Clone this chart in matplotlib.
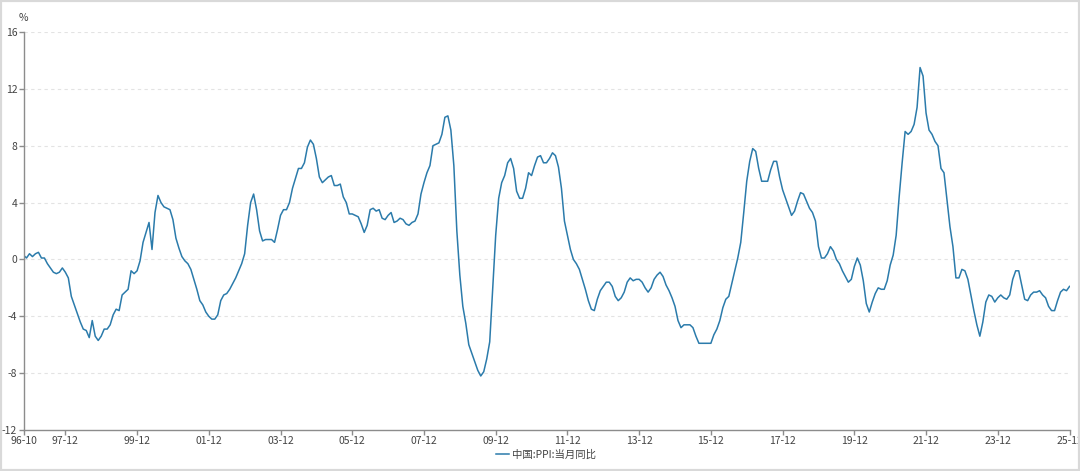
import matplotlib
matplotlib.use("Agg")
import matplotlib.pyplot as plt
from matplotlib.patches import Rectangle

plt.rcParams['font.family'] = ['Noto Sans CJK SC', 'DejaVu Sans']

# 中国 PPI 当月同比, 1996-10 .. 2025-12 (%)
ppi_1996 = [0.3, 0.1, 0.4]
ppi_1997 = [0.2, 0.4, 0.5, 0.1, 0.1, -0.3, -0.6, -0.9, -1.0, -0.9, -0.6, -0.9]
ppi_1998 = [-1.3, -2.6, -3.2, -3.8, -4.4, -4.9, -5.0, -5.5, -4.3, -5.4, -5.7, -5.4]
ppi_1999 = [-4.9, -4.9, -4.6, -3.9, -3.5, -3.6, -2.5, -2.3, -2.1, -0.8, -1.0, -0.8]
ppi_2000 = [-0.1, 1.2, 1.9, 2.6, 0.7, 3.3, 4.5, 4.0, 3.7, 3.6, 3.5, 2.8]
ppi_2001 = [1.5, 0.8, 0.2, -0.1, -0.3, -0.7, -1.4, -2.1, -2.9, -3.2, -3.7, -4.0]
ppi_2002 = [-4.2, -4.2, -3.9, -2.9, -2.5, -2.4, -2.1, -1.7, -1.3, -0.8, -0.3, 0.4]
ppi_2003 = [2.4, 4.0, 4.6, 3.5, 2.0, 1.3, 1.4, 1.4, 1.4, 1.2, 2.1, 3.1]
ppi_2004 = [3.5, 3.5, 4.0, 5.0, 5.7, 6.4, 6.4, 6.8, 7.9, 8.4, 8.1, 7.1]
ppi_2005 = [5.8, 5.4, 5.6, 5.8, 5.9, 5.2, 5.2, 5.3, 4.4, 4.0, 3.2, 3.2]
ppi_2006 = [3.1, 3.0, 2.5, 1.9, 2.4, 3.5, 3.6, 3.4, 3.5, 2.9, 2.8, 3.1]
ppi_2007 = [3.3, 2.6, 2.7, 2.9, 2.8, 2.5, 2.4, 2.6, 2.7, 3.2, 4.6, 5.4]
ppi_2008 = [6.1, 6.6, 8.0, 8.1, 8.2, 8.8, 10.0, 10.1, 9.1, 6.6, 2.0, -1.1]
ppi_2009 = [-3.3, -4.5, -6.0, -6.6, -7.2, -7.8, -8.2, -7.9, -7.0, -5.8, -2.1, 1.7]
ppi_2010 = [4.3, 5.4, 5.9, 6.8, 7.1, 6.4, 4.8, 4.3, 4.3, 5.0, 6.1, 5.9]
ppi_2011 = [6.6, 7.2, 7.3, 6.8, 6.8, 7.1, 7.5, 7.3, 6.5, 5.0, 2.7, 1.7]
ppi_2012 = [0.7, 0.0, -0.3, -0.7, -1.4, -2.1, -2.9, -3.5, -3.6, -2.8, -2.2, -1.9]
ppi_2013 = [-1.6, -1.6, -1.9, -2.6, -2.9, -2.7, -2.3, -1.6, -1.3, -1.5, -1.4, -1.4]
ppi_2014 = [-1.6, -2.0, -2.3, -2.0, -1.4, -1.1, -0.9, -1.2, -1.8, -2.2, -2.7, -3.3]
ppi_2015 = [-4.3, -4.8, -4.6, -4.6, -4.6, -4.8, -5.4, -5.9, -5.9, -5.9, -5.9, -5.9]
ppi_2016 = [-5.3, -4.9, -4.3, -3.4, -2.8, -2.6, -1.7, -0.8, 0.1, 1.2, 3.3, 5.5]
ppi_2017 = [6.9, 7.8, 7.6, 6.4, 5.5, 5.5, 5.5, 6.3, 6.9, 6.9, 5.8, 4.9]
ppi_2018 = [4.3, 3.7, 3.1, 3.4, 4.1, 4.7, 4.6, 4.1, 3.6, 3.3, 2.7, 0.9]
ppi_2019 = [0.1, 0.1, 0.4, 0.9, 0.6, 0.0, -0.3, -0.8, -1.2, -1.6, -1.4, -0.5]
ppi_2020 = [0.1, -0.4, -1.5, -3.1, -3.7, -3.0, -2.4, -2.0, -2.1, -2.1, -1.5, -0.4]
ppi_2021 = [0.3, 1.7, 4.4, 6.8, 9.0, 8.8, 9.0, 9.5, 10.7, 13.5, 12.9, 10.3]
ppi_2022 = [9.1, 8.8, 8.3, 8.0, 6.4, 6.1, 4.2, 2.3, 0.9, -1.3, -1.3, -0.7]
ppi_2023 = [-0.8, -1.4, -2.5, -3.6, -4.6, -5.4, -4.4, -3.0, -2.5, -2.6, -3.0, -2.7]
ppi_2024 = [-2.5, -2.7, -2.8, -2.5, -1.4, -0.8, -0.8, -1.8, -2.8, -2.9, -2.5, -2.3]
ppi_2025 = [-2.3, -2.2, -2.5, -2.7, -3.3, -3.6, -3.6, -2.9, -2.3, -2.1, -2.2, -1.9]

ppi = (ppi_1996 + ppi_1997 + ppi_1998 + ppi_1999 + ppi_2000 + ppi_2001
       + ppi_2002 + ppi_2003 + ppi_2004 + ppi_2005 + ppi_2006 + ppi_2007
       + ppi_2008 + ppi_2009 + ppi_2010 + ppi_2011 + ppi_2012 + ppi_2013
       + ppi_2014 + ppi_2015 + ppi_2016 + ppi_2017 + ppi_2018 + ppi_2019
       + ppi_2020 + ppi_2021 + ppi_2022 + ppi_2023 + ppi_2024 + ppi_2025)

x_labels = ['96-10', '97-12', '99-12', '01-12', '03-12', '05-12', '07-12', '09-12',
            '11-12', '13-12', '15-12', '17-12', '19-12', '21-12', '23-12', '25-12']
y_ticks = [-12, -8, -4, 0, 4, 8, 12, 16]

# month index of each label, counted from 1996-10
def month_index(lbl):
    yy, mm = lbl.split('-')
    year = 1900 + int(yy) if int(yy) > 50 else 2000 + int(yy)
    return (year - 1996) * 12 + int(mm) - 10

x_pos = [month_index(l) for l in x_labels]
months = list(range(len(ppi)))

fig = plt.figure(figsize=(10.8, 4.71), dpi=100)
ax = fig.add_axes([23.5 / 1080, 41 / 471, 1046 / 1080, 398 / 471])

ax.plot(months, ppi, color='#2b7bab', lw=1.1)

ax.set_xlim(0, len(ppi) - 1)
ax.set_ylim(-12, 16)
ax.set_yticks(y_ticks)
ax.set_yticklabels([str(v) for v in y_ticks])
ax.set_xticks(x_pos)
ax.set_xticklabels(x_labels)

for v in y_ticks[1:]:
    ax.axhline(v, color='#e3e3e3', lw=0.8, ls=(0, (3, 3)), zorder=0)

for s in ['top', 'right']:
    ax.spines[s].set_visible(False)
for s in ['left', 'bottom']:
    ax.spines[s].set_color('#8c8c8c')
    ax.spines[s].set_linewidth(1.0)

ax.tick_params(axis='both', colors='#8c8c8c', labelcolor='#444444',
               labelsize=7.5, length=3.5, width=1.0, pad=1)

ax.text(-0.2, 16.95, '%', fontsize=7.5, color='#444444', ha='center', va='center',
        clip_on=False)

fig.legend(['中国:PPI:当月同比'], loc='center', bbox_to_anchor=(546 / 1080, 16 / 471),
           frameon=False, fontsize=7.5, handlelength=1.3, handletextpad=0.3,
           labelcolor='#444444')

fig.patches.append(Rectangle((0, 0), 1, 1, transform=fig.transFigure, fill=False,
                             edgecolor='#d9d9d9', lw=3, zorder=10))

fig.savefig('out.png', dpi=100)
